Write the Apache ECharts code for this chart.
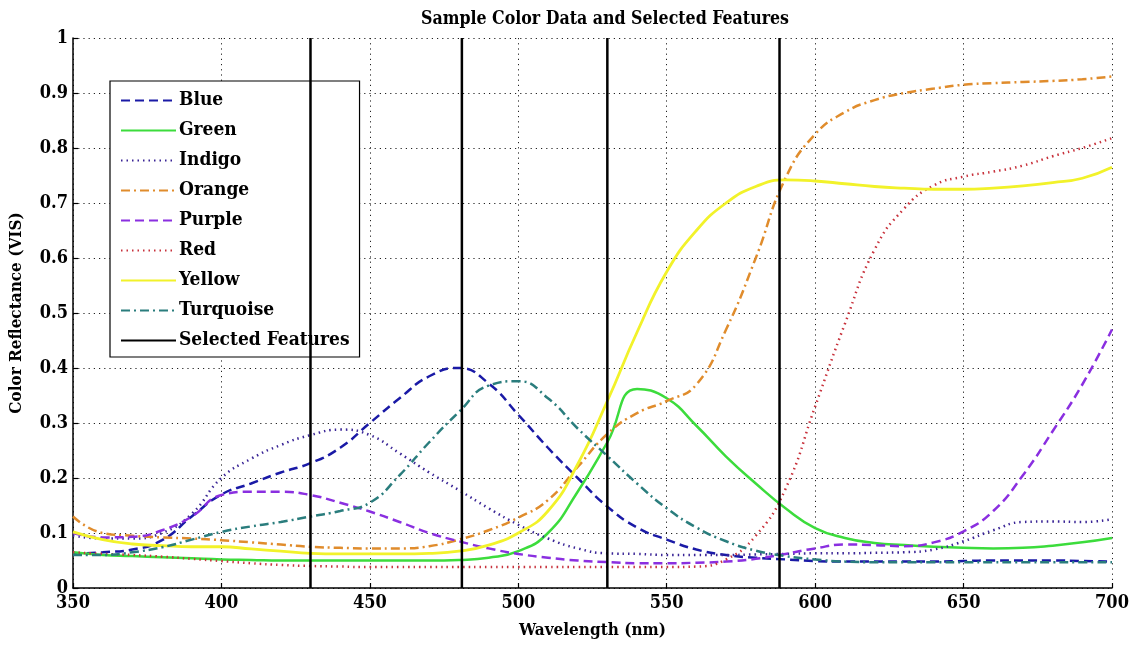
<!DOCTYPE html>
<html>
<head>
<meta charset="utf-8">
<script src="https://cdn.jsdelivr.net/npm/echarts@6/dist/echarts.min.js"></script>
<style>
  html, body { margin: 0; padding: 0; background: #fff; }
  #chart { width: 1135px; height: 645px; }
</style>
</head>
<body>
<div id="chart"></div>
<script>
// Reflectance spectra sampled every 10 nm
const wavelengths = [350,360,370,380,390,400,410,420,430,440,450,460,470,480,490,500,510,520,530,540,550,560,570,580,590,600,610,620,630,640,650,660,670,680,690,700];

const blue = [0.062,0.065,0.07,0.087,0.13,0.17,0.19,0.21,0.227,0.255,0.3,0.345,0.385,0.4,0.372,0.315,0.255,0.2,0.148,0.11,0.088,0.07,0.06,0.055,0.052,0.049,0.048,0.048,0.048,0.048,0.049,0.05,0.05,0.05,0.049,0.048];
const green = [0.065,0.06,0.058,0.056,0.054,0.052,0.051,0.05,0.05,0.05,0.05,0.05,0.05,0.051,0.055,0.067,0.1,0.175,0.265,0.362,0.345,0.295,0.239,0.19,0.145,0.109,0.091,0.082,0.078,0.075,0.073,0.072,0.073,0.077,0.083,0.091];
const indigo = [0.095,0.09,0.09,0.1,0.135,0.2,0.235,0.26,0.278,0.288,0.278,0.245,0.21,0.178,0.145,0.115,0.09,0.072,0.063,0.062,0.06,0.06,0.06,0.061,0.062,0.063,0.063,0.064,0.065,0.07,0.085,0.105,0.12,0.121,0.12,0.125];
const orange = [0.13,0.1,0.095,0.092,0.09,0.087,0.083,0.079,0.075,0.073,0.072,0.072,0.076,0.088,0.105,0.128,0.16,0.22,0.28,0.318,0.34,0.37,0.47,0.6,0.745,0.825,0.865,0.887,0.9,0.908,0.915,0.918,0.92,0.922,0.925,0.93];
const purple = [0.1,0.092,0.093,0.105,0.13,0.169,0.175,0.175,0.169,0.155,0.139,0.12,0.1,0.085,0.072,0.062,0.055,0.05,0.047,0.045,0.045,0.046,0.048,0.053,0.062,0.072,0.079,0.078,0.076,0.083,0.103,0.14,0.205,0.285,0.37,0.47];
const red = [0.065,0.062,0.06,0.057,0.053,0.049,0.045,0.042,0.04,0.039,0.038,0.038,0.038,0.038,0.038,0.038,0.038,0.038,0.038,0.038,0.038,0.039,0.052,0.095,0.18,0.33,0.48,0.615,0.69,0.732,0.748,0.757,0.768,0.785,0.8,0.818];
const yellow = [0.102,0.088,0.08,0.077,0.075,0.075,0.071,0.067,0.063,0.062,0.062,0.062,0.063,0.067,0.078,0.1,0.14,0.225,0.34,0.465,0.575,0.65,0.7,0.73,0.742,0.74,0.735,0.73,0.727,0.725,0.725,0.727,0.731,0.737,0.745,0.765];
const turquoise = [0.06,0.06,0.065,0.074,0.088,0.102,0.112,0.12,0.13,0.14,0.155,0.205,0.265,0.32,0.368,0.376,0.345,0.29,0.24,0.19,0.145,0.11,0.085,0.068,0.058,0.052,0.048,0.047,0.047,0.047,0.047,0.047,0.047,0.047,0.047,0.047];

// Wavelengths picked as features
const selectedFeatures = [430, 481, 530, 588];

const xTicks = [350, 400, 450, 500, 550, 600, 650, 700];

const FONT = '"DejaVu Serif Condensed", "DejaVu Serif", serif';

const DASH = [9, 5];
const DOT = [1.5, 4];
const DASHDOT = [9, 4, 2, 4];

const spectra = [
  { name: 'Blue', values: blue, color: '#1a1aa6', type: DASH, width: 2.5 },
  { name: 'Green', values: green, color: '#3cdc3c', type: 'solid', width: 2.5 },
  { name: 'Indigo', values: indigo, color: '#3a2596', type: DOT, width: 2.5 },
  { name: 'Orange', values: orange, color: '#e08c2c', type: DASHDOT, width: 2.5 },
  { name: 'Purple', values: purple, color: '#8a2fe0', type: DASH, width: 2.5 },
  { name: 'Red', values: red, color: '#c8323c', type: DOT, width: 2.5 },
  { name: 'Yellow', values: yellow, color: '#f2f22a', type: 'solid', width: 2.8 },
  { name: 'Turquoise', values: turquoise, color: '#2a7d7d', type: DASHDOT, width: 2.5 }
];

const series = spectra.map(s => ({
  name: s.name,
  type: 'line',
  data: wavelengths.map((w, i) => [w, s.values[i]]),
  smooth: 0.5,
  symbol: 'none',
  lineStyle: { color: s.color, width: s.width, type: s.type },
  itemStyle: { color: s.color },
  z: 3
}));

selectedFeatures.forEach(w => {
  series.push({
    name: 'Selected Features',
    type: 'line',
    data: [[w, 0], [w, 1]],
    symbol: 'none',
    lineStyle: { color: '#000', width: 2.5, type: 'solid' },
    itemStyle: { color: '#000' },
    z: 4
  });
});

const chart = echarts.init(document.getElementById('chart'), null, { renderer: 'canvas' });

chart.setOption({
  animation: false,
  backgroundColor: '#fff',
  title: {
    text: 'Sample Color Data and Selected Features',
    left: 416,
    top: 5,
    textStyle: { fontFamily: FONT, fontWeight: 'bold', fontSize: 17.6, color: '#000' }
  },
  legend: {
    orient: 'vertical',
    left: 110,
    top: 81,
    padding: [10, 10, 7, 10],
    itemWidth: 55,
    itemHeight: 18,
    itemGap: 11,
    backgroundColor: '#fff',
    borderColor: '#000',
    borderWidth: 1.2,
    borderRadius: 0,
    itemStyle: { color: 'transparent', borderWidth: 0, opacity: 0 },
    data: ['Blue', 'Green', 'Indigo', 'Orange', 'Purple', 'Red', 'Yellow', 'Turquoise', 'Selected Features'],
    textStyle: { fontFamily: FONT, fontWeight: 'bold', fontSize: 19, color: '#000', padding: [0, 0, 0, -2] }
  },
  grid: { left: 72, right: 23, top: 38, bottom: 57, containLabel: false },
  xAxis: {
    type: 'value',
    min: 350,
    max: 700,
    interval: 50,
    name: 'Wavelength (nm)',
    nameLocation: 'middle',
    nameGap: 34,
    nameTextStyle: { fontFamily: FONT, fontWeight: 'bold', fontSize: 17, color: '#000' },
    axisLine: { show: true, onZero: false, lineStyle: { color: '#000', width: 1.5 } },
    axisTick: { show: true, inside: true, length: 5, lineStyle: { color: '#000', width: 1.2 } },
    axisLabel: {
      fontFamily: FONT, fontWeight: 'bold', fontSize: 18, color: '#000', margin: 6,
      showMinLabel: true, showMaxLabel: true,
      formatter: v => (xTicks.includes(v) ? String(v) : '')
    },
    splitLine: { show: true, lineStyle: { color: '#222', width: 1, type: [1.2, 4] } }
  },
  yAxis: {
    type: 'value',
    min: 0,
    max: 1,
    interval: 0.1,
    name: 'Color Reflectance (VIS)',
    nameLocation: 'middle',
    nameGap: 48,
    nameRotate: 90,
    nameTextStyle: { fontFamily: FONT, fontWeight: 'bold', fontSize: 17, color: '#000' },
    axisLine: { show: true, onZero: false, lineStyle: { color: '#000', width: 1.5 } },
    axisTick: { show: true, inside: true, length: 5, lineStyle: { color: '#000', width: 1.2 } },
    axisLabel: {
      fontFamily: FONT, fontWeight: 'bold', fontSize: 18, color: '#000', margin: 5,
      formatter: v => (Math.abs(v) < 1e-9 ? '0' : Math.abs(v - 1) < 1e-9 ? '1' : v.toFixed(1))
    },
    splitLine: { show: true, lineStyle: { color: '#222', width: 1, type: [1.2, 4] } }
  },
  series: series
});
</script>
</body>
</html>
